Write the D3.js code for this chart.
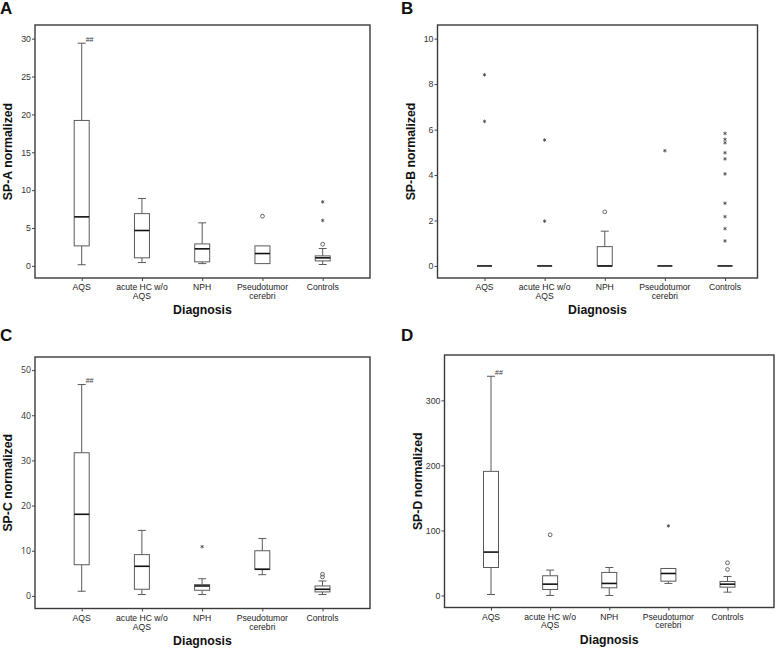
<!DOCTYPE html>
<html><head><meta charset="utf-8">
<script src="https://cdn.jsdelivr.net/npm/d3@7"></script>
<style>body{margin:0;background:#fff}svg{display:block}</style>
</head><body>
<script>
// ---- data ----
const categories = ["AQS", "acute HC w/o AQS", "NPH", "Pseudotumor cerebri", "Controls"];
const categoryLines = [["AQS"], ["acute HC w/o", "AQS"], ["NPH"], ["Pseudotumor", "cerebri"], ["Controls"]];

// SP-A
const spA_low  = [0.15, 0.44, 0.30, null, 0.18];
const spA_q1   = [2.64, 1.06, 0.53, 0.30, 0.66];
const spA_med  = [6.47, 4.67, 2.25, 1.63, 1.06];
const spA_q3   = [19.2, 6.90, 2.90, 2.64, 1.32];
const spA_high = [29.4, 8.90, 5.68, null, 2.29];
const spA_circles = [[3, 6.56], [4, 2.86]];
const spA_stars   = [[4, 6.0], [4, 8.45]];
const spA_ticks = [0, 5, 10, 15, 20, 25, 30];

// SP-B
const spB_low  = [0, 0, 0, 0, 0];
const spB_q1   = [0, 0, 0, 0, 0];
const spB_med  = [0, 0, 0, 0, 0];
const spB_q3   = [0, 0, 0.85, 0, 0];
const spB_high = [0, 0, 1.53, 0, 0];
const spB_circles = [[2, 2.38]];
const spB_stars   = [[0, 8.41], [0, 6.36], [1, 5.54], [1, 1.97], [3, 5.07],
  [4, 5.83], [4, 5.57], [4, 5.42], [4, 4.98], [4, 4.71], [4, 4.05], [4, 2.76], [4, 2.17], [4, 1.64], [4, 1.10]];
const spB_ticks = [0, 2, 4, 6, 8, 10];

// SP-C
const spC_low  = [1.03, 0.30, 0.30, 4.70, 0.30];
const spC_q1   = [6.90, 1.47, 1.25, 5.90, 0.88];
const spC_med  = [18.07, 6.56, 2.20, 5.90, 1.47];
const spC_q3   = [31.7, 9.14, 2.50, 10.0, 2.20];
const spC_high = [46.8, 14.5, 3.80, 12.7, 3.30];
const spC_circles = [[4, 4.2], [4, 4.8]];
const spC_stars   = [[2, 10.9]];
const spC_ticks = [0, 10, 20, 30, 40, 50];

// SP-D
const spD_low  = [1.5, 0, 0, 18.5, 5.1];
const spD_q1   = [43, 9.2, 11.8, 22, 12.8];
const spD_med  = [66.7, 17.4, 18.5, 33.8, 17.4];
const spD_q3   = [190.8, 30.3, 35.4, 41.5, 21.5];
const spD_high = [337, 39, 43, 41.5, 29.2];
const spD_circles = [[1, 93.3], [4, 40], [4, 50.3]];
const spD_stars   = [[3, 107]];
const spD_ticks = [0, 100, 200, 300];

const panelLetters = ["A", "B", "C", "D"];
const yTitles = ["SP-A normalized", "SP-B normalized", "SP-C normalized", "SP-D normalized"];
const xTitle = "Diagnosis";
const sigMark = "##";

// ---- layout ----
const sans = "Liberation Sans, Arial, sans-serif";
const panels = [
  {letter: panelLetters[0], title: yTitles[0], low: spA_low, q1: spA_q1, med: spA_med, q3: spA_q3, high: spA_high,
   circles: spA_circles, stars: spA_stars, ticks: spA_ticks, sig: true,
   frame: [35, 25, 370, 278], domain: [-1.6, 31.8], cat: [81.7, 322.7], letterPos: [0, 14],
   tickFont: sans, catGap: 8.6},
  {letter: panelLetters[1], title: yTitles[1], low: spB_low, q1: spB_q1, med: spB_med, q3: spB_q3, high: spB_high,
   circles: spB_circles, stars: spB_stars, ticks: spB_ticks, sig: false,
   frame: [437.5, 25, 757.5, 278], domain: [-0.53, 10.6], cat: [484.5, 725], letterPos: [401, 14],
   tickFont: sans, catGap: 8.6},
  {letter: panelLetters[2], title: yTitles[2], low: spC_low, q1: spC_q1, med: spC_med, q3: spC_q3, high: spC_high,
   circles: spC_circles, stars: spC_stars, ticks: spC_ticks, sig: true,
   frame: [35, 357, 370, 608.5], domain: [-2.79, 52.9], cat: [81.7, 322.5], letterPos: [0, 341],
   tickFont: "Open Sans, sans-serif", catGap: 9},
  {letter: panelLetters[3], title: yTitles[3], low: spD_low, q1: spD_q1, med: spD_med, q3: spD_q3, high: spD_high,
   circles: spD_circles, stars: spD_stars, ticks: spD_ticks, sig: true,
   frame: [444.5, 355, 774, 607.5], domain: [-18.5, 369.7], cat: [491, 727.5], letterPos: [401, 341],
   tickFont: sans, catGap: 8.6}
];

const W = 775, H = 648;
const svg = d3.select("body").append("svg").attr("width", W).attr("height", H)
  .style("font-family", sans);

const boxW = 15, capW = 8;
const boxStroke = "#5a5a5a";
const starPath = d3.symbol().type(d3.symbolAsterisk).size(9)();

panels.forEach(p => {
  const [fx0, fy0, fx1, fy1] = p.frame;
  const x = d3.scalePoint().domain(categories).range(p.cat);
  const y = d3.scaleLinear().domain(p.domain).range([fy1, fy0]);
  const g = svg.append("g");

  // panel letter
  g.append("text").attr("x", p.letterPos[0]).attr("y", p.letterPos[1])
    .attr("font-size", 17).attr("font-weight", "bold").attr("fill", "#111").text(p.letter);

  // frame
  g.append("rect").attr("x", fx0).attr("y", fy0).attr("width", fx1 - fx0).attr("height", fy1 - fy0)
    .attr("fill", "none").attr("stroke", "#3a3a3a").attr("stroke-width", 1.4);

  // y axis
  const yAxis = g.append("g").attr("transform", `translate(${fx0},0)`)
    .call(d3.axisLeft(y).tickValues(p.ticks).tickSize(3).tickPadding(1).tickFormat(d3.format("d")));
  yAxis.select(".domain").remove();
  yAxis.selectAll("line").attr("stroke", "#444");
  yAxis.selectAll("text").attr("font-size", 8.8).attr("fill", "#333").attr("font-family", p.tickFont);

  // x axis
  const xAxis = g.append("g").attr("transform", `translate(0,${fy1})`)
    .call(d3.axisBottom(x).tickSize(3).tickFormat(""));
  xAxis.select(".domain").remove();
  xAxis.selectAll("line").attr("stroke", "#444");
  categories.forEach((c, i) => {
    const t = g.append("text").attr("x", x(c)).attr("y", fy1 + 12).attr("text-anchor", "middle")
      .attr("font-size", 8.6).attr("fill", "#222").attr("font-family", sans);
    categoryLines[i].forEach((ln, j) => t.append("tspan").attr("x", x(c)).attr("dy", j === 0 ? 0 : p.catGap).text(ln));
  });

  // titles
  const cy = (fy0 + fy1) / 2;
  g.append("text").attr("transform", `translate(${fx0 - 23},${cy}) rotate(-90)`).attr("text-anchor", "middle")
    .attr("font-size", 12.3).attr("font-weight", "bold").attr("fill", "#111").text(p.title);
  g.append("text").attr("x", (fx0 + fx1) / 2).attr("y", fy1 + 36).attr("text-anchor", "middle")
    .attr("font-size", 12.3).attr("font-weight", "bold").attr("fill", "#111").text(xTitle);

  // boxes
  categories.forEach((c, i) => {
    const cx = x(c);
    const bg = g.append("g");
    if (p.high[i] != null && p.high[i] > p.q3[i]) {
      bg.append("line").attr("x1", cx).attr("x2", cx).attr("y1", y(p.q3[i])).attr("y2", y(p.high[i])).attr("stroke", boxStroke);
      bg.append("line").attr("x1", cx - capW / 2).attr("x2", cx + capW / 2).attr("y1", y(p.high[i])).attr("y2", y(p.high[i])).attr("stroke", boxStroke);
    }
    if (p.low[i] != null && p.low[i] < p.q1[i]) {
      bg.append("line").attr("x1", cx).attr("x2", cx).attr("y1", y(p.q1[i])).attr("y2", y(p.low[i])).attr("stroke", boxStroke);
      bg.append("line").attr("x1", cx - capW / 2).attr("x2", cx + capW / 2).attr("y1", y(p.low[i])).attr("y2", y(p.low[i])).attr("stroke", boxStroke);
    }
    if (p.q3[i] > p.q1[i]) {
      bg.append("rect").attr("x", cx - boxW / 2).attr("y", y(p.q3[i])).attr("width", boxW)
        .attr("height", y(p.q1[i]) - y(p.q3[i])).attr("fill", "#fff").attr("stroke", boxStroke);
    }
    bg.append("line").attr("x1", cx - boxW / 2).attr("x2", cx + boxW / 2).attr("y1", y(p.med[i])).attr("y2", y(p.med[i]))
      .attr("stroke", "#111").attr("stroke-width", 1.6);
    if (p.sig && i === 0) {
      g.append("text").attr("x", cx + 4).attr("y", y(p.high[i]) - 1.5).attr("font-size", 7).attr("fill", "#333").text(sigMark);
    }
  });

  // outliers
  g.selectAll(null).data(p.circles).join("circle")
    .attr("cx", d => x(categories[d[0]])).attr("cy", d => y(d[1])).attr("r", 1.9)
    .attr("fill", "none").attr("stroke", "#555").attr("stroke-width", 0.9);
  g.selectAll(null).data(p.stars).join("path")
    .attr("transform", d => `translate(${x(categories[d[0]])},${y(d[1])})`)
    .attr("d", starPath).attr("fill", "none").attr("stroke", "#444").attr("stroke-width", 0.8);
});
</script>
</body></html>
